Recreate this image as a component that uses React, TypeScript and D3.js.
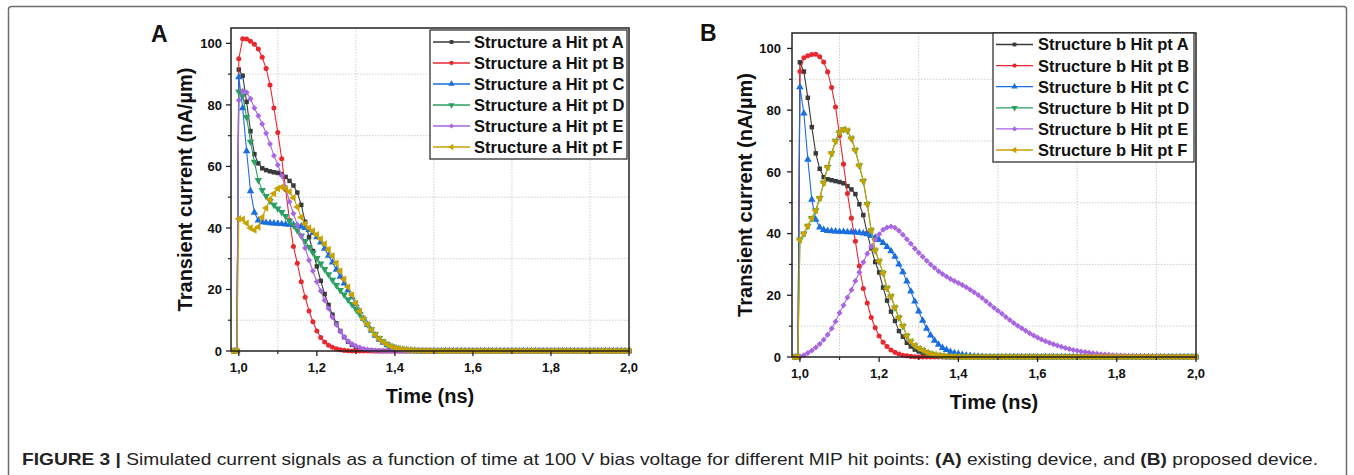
import React from 'react';
import * as d3 from 'd3';

// ---------- shared time grid (ns) ----------
const times = [0.98, 0.99, 0.995,
  1.00, 1.01, 1.02, 1.03, 1.04, 1.05, 1.06, 1.07, 1.08, 1.09,
  1.10, 1.11, 1.12, 1.13, 1.14, 1.15, 1.16, 1.17, 1.18, 1.19,
  1.20, 1.21, 1.22, 1.23, 1.24, 1.25, 1.26, 1.27, 1.28, 1.29,
  1.30, 1.31, 1.32, 1.33, 1.34, 1.35, 1.36, 1.37, 1.38, 1.39,
  1.40, 1.41, 1.42, 1.43, 1.44, 1.45, 1.46, 1.47, 1.48, 1.49,
  1.50, 1.51, 1.52, 1.53, 1.54, 1.55, 1.56, 1.57, 1.58, 1.59,
  1.60, 1.61, 1.62, 1.63, 1.64, 1.65, 1.66, 1.67, 1.68, 1.69,
  1.70, 1.71, 1.72, 1.73, 1.74, 1.75, 1.76, 1.77, 1.78, 1.79,
  1.80, 1.81, 1.82, 1.83, 1.84, 1.85, 1.86, 1.87, 1.88, 1.89,
  1.90, 1.91, 1.92, 1.93, 1.94, 1.95, 1.96, 1.97, 1.98, 1.99,
  2.00];

// ---------- Panel A: Structure a ----------
const aA = [0, 0, 0,
  91.5, 89.5, 81, 71.5, 64, 61, 59.4, 58.8, 58.4, 58.1,
  57.9, 57.5, 56.6, 55.3, 53.8, 51.5, 47.5, 42, 37, 32.5,
  27.5, 22.8, 18.5, 15, 11.8, 9, 6.5, 4.5, 3, 2,
  1.2, 0.7, 0.4, 0.2, 0.1, 0, 0, 0, 0, 0,
  0, 0, 0, 0, 0, 0, 0, 0, 0, 0,
  0, 0, 0, 0, 0, 0, 0, 0, 0, 0,
  0, 0, 0, 0, 0, 0, 0, 0, 0, 0,
  0, 0, 0, 0, 0, 0, 0, 0, 0, 0,
  0, 0, 0, 0, 0, 0, 0, 0, 0, 0,
  0, 0, 0, 0, 0, 0, 0, 0, 0, 0,
  0];
const aB = [0, 0, 0,
  95, 101.5, 101.4, 100.7, 99.7, 98.2, 95.5, 91.8, 86.5, 79,
  71, 62.5, 52.5, 42.5, 34, 28.5, 22.5, 17.5, 13, 9.5,
  6.5, 4.4, 2.9, 1.9, 1.2, 0.7, 0.4, 0.2, 0.1, 0,
  0, 0, 0, 0, 0, 0, 0, 0, 0, 0,
  0, 0, 0, 0, 0, 0, 0, 0, 0, 0,
  0, 0, 0, 0, 0, 0, 0, 0, 0, 0,
  0, 0, 0, 0, 0, 0, 0, 0, 0, 0,
  0, 0, 0, 0, 0, 0, 0, 0, 0, 0,
  0, 0, 0, 0, 0, 0, 0, 0, 0, 0,
  0, 0, 0, 0, 0, 0, 0, 0, 0, 0,
  0];
const aC = [0, 0, 0,
  89, 79, 65, 52, 45, 42.5, 41.9, 41.7, 41.6, 41.5,
  41.4, 41.3, 41.2, 41.1, 41, 40.8, 40.5, 40, 39.4, 38.4,
  37, 35.3, 33.3, 31, 28.8, 26.5, 24.2, 22, 19.8, 17.5,
  15.2, 12.8, 10.5, 8.5, 6.6, 5, 3.7, 2.7, 1.9, 1.3,
  0.9, 0.6, 0.4, 0.25, 0.15, 0.1, 0, 0, 0, 0,
  0, 0, 0, 0, 0, 0, 0, 0, 0, 0,
  0, 0, 0, 0, 0, 0, 0, 0, 0, 0,
  0, 0, 0, 0, 0, 0, 0, 0, 0, 0,
  0, 0, 0, 0, 0, 0, 0, 0, 0, 0,
  0, 0, 0, 0, 0, 0, 0, 0, 0, 0,
  0];
const aD = [0, 0, 0,
  84.3, 83, 76, 68, 61.5, 55.5, 52.3, 50.3, 48.8, 47.5,
  46.3, 45.1, 43.8, 42.3, 40.8, 39.2, 37.5, 35.7, 33.8, 32,
  30.2, 28.4, 26.6, 24.9, 23.1, 21.4, 19.8, 18.3, 16.7, 15.2,
  13.6, 12, 10.3, 8.6, 7, 5.5, 4.2, 3.1, 2.2, 1.5,
  1, 0.6, 0.4, 0.25, 0.15, 0.1, 0, 0, 0, 0,
  0, 0, 0, 0, 0, 0, 0, 0, 0, 0,
  0, 0, 0, 0, 0, 0, 0, 0, 0, 0,
  0, 0, 0, 0, 0, 0, 0, 0, 0, 0,
  0, 0, 0, 0, 0, 0, 0, 0, 0, 0,
  0, 0, 0, 0, 0, 0, 0, 0, 0, 0,
  0];
const aE = [0, 0, 0,
  81.5, 84.5, 84, 82, 79, 76.5, 73.8, 70.8, 67.3, 63.5,
  60.5, 57, 53, 48.5, 44.7, 41, 37.4, 33.5, 29.5, 26,
  22.5, 19.5, 16.5, 13.8, 11, 8.5, 6.3, 4.6, 3.2, 2.3,
  1.6, 1.1, 0.7, 0.45, 0.3, 0.2, 0.1, 0, 0, 0,
  0, 0, 0, 0, 0, 0, 0, 0, 0, 0,
  0, 0, 0, 0, 0, 0, 0, 0, 0, 0,
  0, 0, 0, 0, 0, 0, 0, 0, 0, 0,
  0, 0, 0, 0, 0, 0, 0, 0, 0, 0,
  0, 0, 0, 0, 0, 0, 0, 0, 0, 0,
  0, 0, 0, 0, 0, 0, 0, 0, 0, 0,
  0];
const aF = [0, 0, 0,
  43, 42.8, 41.5, 40, 39.3, 40.3, 43.5, 46.5, 49.3, 51.2,
  52.8, 53.3, 52.8, 51.8, 49.8, 46.8, 43.5, 41.3, 40, 39,
  37.8, 36.4, 34.8, 33, 31, 28.5, 26, 23.3, 20.8, 18.2,
  15.5, 12.9, 10.4, 8.6, 6.8, 5.2, 3.9, 2.9, 2.1, 1.5,
  1.1, 0.8, 0.55, 0.4, 0.3, 0.2, 0.12, 0.08, 0.05, 0,
  0, 0, 0, 0, 0, 0, 0, 0, 0, 0,
  0, 0, 0, 0, 0, 0, 0, 0, 0, 0,
  0, 0, 0, 0, 0, 0, 0, 0, 0, 0,
  0, 0, 0, 0, 0, 0, 0, 0, 0, 0,
  0, 0, 0, 0, 0, 0, 0, 0, 0, 0,
  0];

// ---------- Panel B: Structure b ----------
const bA = [0, 0, 0,
  95.5, 92.5, 84, 74.5, 66, 61, 58.3, 57.6, 57.3, 57,
  56.7, 56.3, 55.4, 54.3, 52.8, 49.5, 46, 40, 35.2, 30.8,
  27.4, 22.5, 18.3, 14.7, 11.7, 8.4, 6.6, 4.6, 3.4, 2.4,
  1.8, 1.2, 0.8, 0.5, 0.3, 0.2, 0.1, 0, 0, 0,
  0, 0, 0, 0, 0, 0, 0, 0, 0, 0,
  0, 0, 0, 0, 0, 0, 0, 0, 0, 0,
  0, 0, 0, 0, 0, 0, 0, 0, 0, 0,
  0, 0, 0, 0, 0, 0, 0, 0, 0, 0,
  0, 0, 0, 0, 0, 0, 0, 0, 0, 0,
  0, 0, 0, 0, 0, 0, 0, 0, 0, 0,
  0];
const bB = [0, 0, 0,
  92.5, 97, 97.6, 98, 98.1, 97.3, 95.6, 92.4, 87.3, 81,
  71.8, 62.5, 53, 45, 37.5, 29.5, 22.2, 17.5, 12.8, 9.5,
  6.8, 4.8, 3.4, 2.3, 1.5, 1, 0.6, 0.4, 0.2, 0.1,
  0, 0, 0, 0, 0, 0, 0, 0, 0, 0,
  0, 0, 0, 0, 0, 0, 0, 0, 0, 0,
  0, 0, 0, 0, 0, 0, 0, 0, 0, 0,
  0, 0, 0, 0, 0, 0, 0, 0, 0, 0,
  0, 0, 0, 0, 0, 0, 0, 0, 0, 0,
  0, 0, 0, 0, 0, 0, 0, 0, 0, 0,
  0, 0, 0, 0, 0, 0, 0, 0, 0, 0,
  0];
const bC = [0, 0, 0,
  87.5, 79, 64, 51, 44.5, 42, 41.2, 40.9, 40.8, 40.7,
  40.6, 40.6, 40.5, 40.5, 40.4, 40.3, 40.1, 39.8, 39.3, 38.7,
  38, 37, 35.7, 34.3, 32.5, 30, 27.5, 24.5, 21.3, 18,
  14.8, 11.8, 9.2, 7, 5.3, 4, 3, 2.3, 1.7, 1.3,
  1, 0.7, 0.5, 0.35, 0.25, 0.15, 0.1, 0, 0, 0,
  0, 0, 0, 0, 0, 0, 0, 0, 0, 0,
  0, 0, 0, 0, 0, 0, 0, 0, 0, 0,
  0, 0, 0, 0, 0, 0, 0, 0, 0, 0,
  0, 0, 0, 0, 0, 0, 0, 0, 0, 0,
  0, 0, 0, 0, 0, 0, 0, 0, 0, 0,
  0];
// pt D is not visible in panel B: it lies under pt F
const bD = [0, 0, 0,
  38, 40, 42.5, 45, 47.5, 51.5, 56.5, 61.5, 66, 70,
  72.8, 73.8, 73.3, 70.8, 67, 62, 57, 49.5, 41, 34.5,
  31, 27.2, 22.3, 19.6, 16, 12.7, 10, 6.8, 5, 3.7,
  2.8, 2.2, 1.5, 1.1, 0.8, 0.55, 0.4, 0.28, 0.2, 0.14,
  0.1, 0, 0, 0, 0, 0, 0, 0, 0, 0,
  0, 0, 0, 0, 0, 0, 0, 0, 0, 0,
  0, 0, 0, 0, 0, 0, 0, 0, 0, 0,
  0, 0, 0, 0, 0, 0, 0, 0, 0, 0,
  0, 0, 0, 0, 0, 0, 0, 0, 0, 0,
  0, 0, 0, 0, 0, 0, 0, 0, 0, 0,
  0];
const bE = [0, 0, 0,
  0.2, 0.6, 1.3, 2.1, 3.1, 4.2, 5.6, 7.2, 9.2, 11.5,
  14.3, 16.8, 19.3, 21.7, 24.6, 27.5, 30.7, 33.5, 35.8, 38,
  39.8, 41.2, 42, 42.3, 41.9, 40.9, 39.6, 38.2, 36.7, 35.2,
  33.8, 32.5, 31.2, 30, 28.9, 27.8, 26.9, 26.1, 25.3, 24.6,
  24, 23.3, 22.6, 21.8, 21, 20.1, 19.1, 18.1, 17, 16,
  15, 14, 13, 12, 11, 10.1, 9.3, 8.5, 7.7, 7,
  6.3, 5.7, 5.1, 4.6, 4.1, 3.7, 3.3, 2.9, 2.6, 2.3,
  2, 1.8, 1.6, 1.4, 1.2, 1.05, 0.9, 0.8, 0.7, 0.6,
  0.5, 0.45, 0.4, 0.35, 0.3, 0.25, 0.22, 0.2, 0.17, 0.15,
  0.13, 0.11, 0.1, 0.09, 0.08, 0.07, 0.06, 0.05, 0.05, 0.04,
  0.04];
const bF = [0, 0, 0,
  38, 40, 42.5, 45, 47.5, 51.5, 56.5, 61.5, 66, 70,
  72.8, 73.8, 73.3, 70.8, 67, 62, 57, 49.5, 41, 34.5,
  31, 27.2, 22.3, 19.6, 16, 12.7, 10, 6.8, 5, 3.7,
  2.8, 2.2, 1.5, 1.1, 0.8, 0.55, 0.4, 0.28, 0.2, 0.14,
  0.1, 0, 0, 0, 0, 0, 0, 0, 0, 0,
  0, 0, 0, 0, 0, 0, 0, 0, 0, 0,
  0, 0, 0, 0, 0, 0, 0, 0, 0, 0,
  0, 0, 0, 0, 0, 0, 0, 0, 0, 0,
  0, 0, 0, 0, 0, 0, 0, 0, 0, 0,
  0, 0, 0, 0, 0, 0, 0, 0, 0, 0,
  0];

const hitPoints = ['A', 'B', 'C', 'D', 'E', 'F'];
const xTicks = [1.0, 1.2, 1.4, 1.6, 1.8, 2.0];
const xTickLabels = ['1,0', '1,2', '1,4', '1,6', '1,8', '2,0'];
const xMinor = [1.1, 1.3, 1.5, 1.7, 1.9];
const yTicks = [0, 20, 40, 60, 80, 100];
const yMinor = [10, 30, 50, 70, 90];

const COLORS = ['#3a3a3a', '#e8282f', '#1a6ee0', '#2a9f62', '#a866e0', '#c9a200'];
const FONT = "'Liberation Sans', Arial, Helvetica, sans-serif";

const symbolPaths = [
  { type: d3.symbolSquare, size: 20, rot: 0 },
  { type: d3.symbolCircle, size: 20, rot: 0 },
  { type: d3.symbolTriangle, size: 24, rot: 0 },
  { type: d3.symbolTriangle, size: 24, rot: 180 },
  { type: d3.symbolSquare, size: 18, rot: 45 },
  { type: d3.symbolTriangle, size: 24, rot: -90 },
].map(s => ({ d: d3.symbol(s.type, s.size)() as string, rot: s.rot }));

type PanelProps = {
  id: string;
  left: number; top: number; right: number; bottom: number;
  series: number[][];
  struct: string;
  letter: string; letterX: number; letterY: number;
  legend: { x: number; y: number; w: number; h: number; row0: number; step: number; lx0: number; lx1: number; tx: number };
  yLabelX: number; yTitleX: number;
};

function Panel(p: PanelProps) {
  const x = d3.scaleLinear().domain([0.98, 2.0]).range([p.left, p.right]);
  const y = d3.scaleLinear().domain([0, 105]).range([p.bottom, p.top]);
  const line = d3.line<number>().x((_, i) => x(times[i])).y(v => y(v));
  const cx = (p.left + p.right) / 2;
  const cy = (p.top + p.bottom) / 2;
  return (
    <g>
      <defs>
        <clipPath id={'clip' + p.id}>
          <rect x={p.left} y={p.top - 6} width={p.right - p.left + 3} height={p.bottom - p.top + 9} />
        </clipPath>
      </defs>
      {xMinor.map(t => (
        <line key={'gx' + t} x1={x(t)} x2={x(t)} y1={p.top} y2={p.bottom} stroke="#cfcfcf" strokeWidth={1} strokeDasharray="1.5,1.5" />
      ))}
      {yMinor.map(t => (
        <line key={'gy' + t} x1={p.left} x2={p.right} y1={y(t)} y2={y(t)} stroke="#cfcfcf" strokeWidth={1} strokeDasharray="1.5,1.5" />
      ))}
      <g clipPath={`url(#clip${p.id})`}>
        {p.series.map((s, si) => (
          <g key={'s' + si}>
            <path d={line(s.slice(0, times.length)) as string} fill="none" stroke={COLORS[si]} strokeWidth={1.1} />
            {s.slice(0, times.length).map((v, i) => (
              <path key={i} d={symbolPaths[si].d} fill={COLORS[si]}
                transform={`translate(${x(times[i])},${y(v)}) rotate(${symbolPaths[si].rot})`} />
            ))}
          </g>
        ))}
      </g>
      <rect x={p.left} y={p.top} width={p.right - p.left} height={p.bottom - p.top} fill="none" stroke="#222" strokeWidth={1.5} />
      {xTicks.map((t, i) => (
        <g key={'xt' + t}>
          <line x1={x(t)} x2={x(t)} y1={p.bottom} y2={p.bottom + 5} stroke="#222" strokeWidth={1.3} />
          <text x={x(t)} y={p.bottom + 21} textAnchor="middle" fontFamily={FONT} fontWeight="bold" fontSize={13} fill="#111">{xTickLabels[i]}</text>
        </g>
      ))}
      {xMinor.map(t => (
        <line key={'xm' + t} x1={x(t)} x2={x(t)} y1={p.bottom} y2={p.bottom + 3} stroke="#222" strokeWidth={1.2} />
      ))}
      {yTicks.map(t => (
        <g key={'yt' + t}>
          <line x1={p.left - 5} x2={p.left} y1={y(t)} y2={y(t)} stroke="#222" strokeWidth={1.3} />
          <text x={p.yLabelX} y={y(t)} dy="0.36em" textAnchor="end" fontFamily={FONT} fontWeight="bold" fontSize={13} fill="#111">{t}</text>
        </g>
      ))}
      {yMinor.map(t => (
        <line key={'ym' + t} x1={p.left - 3} x2={p.left} y1={y(t)} y2={y(t)} stroke="#222" strokeWidth={1.2} />
      ))}
      <text x={cx} y={p.bottom + 52} textAnchor="middle" fontFamily={FONT} fontWeight="bold" fontSize={20} fill="#111">Time (ns)</text>
      <text transform={`translate(${p.yTitleX},${cy}) rotate(-90)`} textAnchor="middle" fontFamily={FONT} fontWeight="bold" fontSize={20} fill="#111">Transient current (nA/µm)</text>
      <rect x={p.legend.x} y={p.legend.y} width={p.legend.w} height={p.legend.h} fill="#fff" stroke="#222" strokeWidth={1.2} />
      {hitPoints.map((h, i) => {
        const ly = p.legend.row0 + i * p.legend.step;
        const mx = (p.legend.lx0 + p.legend.lx1) / 2;
        return (
          <g key={'lg' + h}>
            <line x1={p.legend.lx0} x2={p.legend.lx1} y1={ly} y2={ly} stroke={COLORS[i]} strokeWidth={1.3} />
            <path d={symbolPaths[i].d} fill={COLORS[i]} transform={`translate(${mx},${ly}) rotate(${symbolPaths[i].rot}) scale(0.85)`} />
            <text x={p.legend.tx} y={ly} dy="0.36em" fontFamily={FONT} fontWeight="bold" fontSize={16.5} fill="#111">{`Structure ${p.struct} Hit pt ${h}`}</text>
          </g>
        );
      })}
      <text x={p.letterX} y={p.letterY} fontFamily={FONT} fontWeight="bold" fontSize={23} fill="#111">{p.letter}</text>
    </g>
  );
}

export default function App() {
  return (
    <div style={{ position: 'absolute', left: 0, top: 0 }}>
      <svg width={1354} height={475} viewBox="0 0 1354 475" style={{ display: 'block', background: '#fff' }}>
        <rect x={8.5} y={6.5} width={1338} height={480} rx={3} fill="#fff" stroke="#6e6e6e" strokeWidth={1.5} />
        <Panel id="a" left={231} top={28} right={629} bottom={351}
          series={[aA, aB, aC, aD, aE, aF]} struct="a"
          letter="A" letterX={151} letterY={42}
          legend={{ x: 430, y: 30, w: 197, h: 129, row0: 42, step: 21, lx0: 433, lx1: 470, tx: 474 }}
          yLabelX={222} yTitleX={192} />
        <Panel id="b" left={792} top={33} right={1196} bottom={357}
          series={[bA, bB, bC, bD, bE, bF]} struct="b"
          letter="B" letterX={700} letterY={41}
          legend={{ x: 993, y: 33, w: 201, h: 129, row0: 44.5, step: 21.1, lx0: 996, lx1: 1033, tx: 1038 }}
          yLabelX={781} yTitleX={752} />
        <text x={22} y={465} fontFamily={FONT} fontSize={17} fill="#222" textLength={1296} lengthAdjust="spacingAndGlyphs">
          <tspan fontWeight="bold">FIGURE 3 | </tspan>
          <tspan>Simulated current signals as a function of time at 100 V bias voltage for different MIP hit points: </tspan>
          <tspan fontWeight="bold">(A)</tspan>
          <tspan> existing device, and </tspan>
          <tspan fontWeight="bold">(B)</tspan>
          <tspan> proposed device.</tspan>
        </text>
      </svg>
    </div>
  );
}
